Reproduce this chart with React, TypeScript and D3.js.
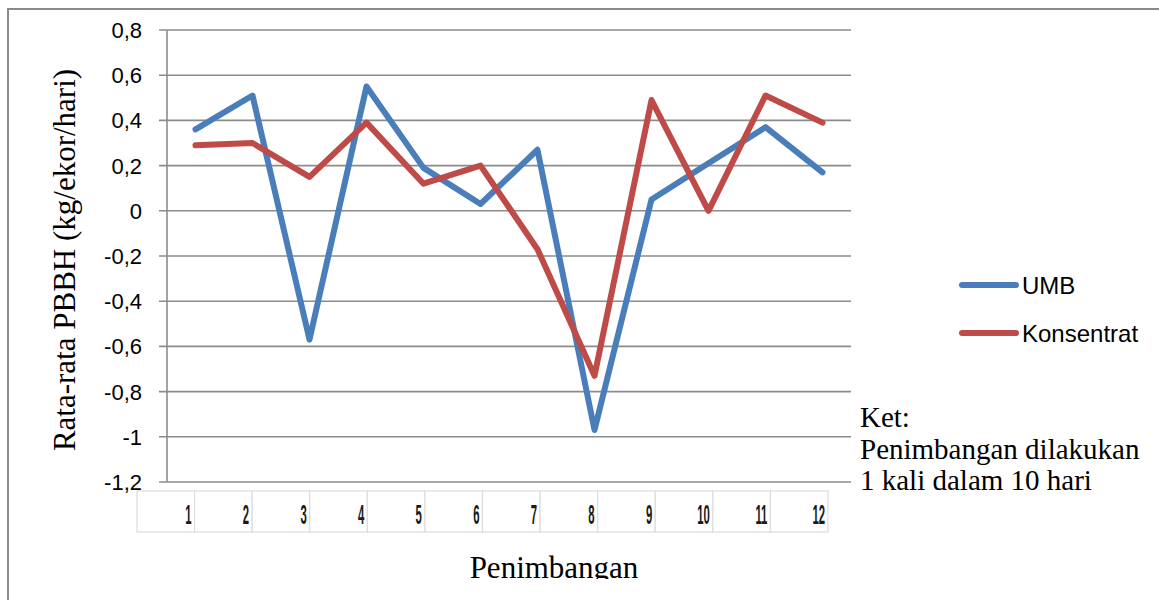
import React from 'react';
import * as d3 from 'd3';

const categories = ['1', '2', '3', '4', '5', '6', '7', '8', '9', '10', '11', '12'];
const umb = [0.36, 0.51, -0.57, 0.55, 0.19, 0.03, 0.27, -0.97, 0.05, 0.21, 0.37, 0.17];
const konsentrat = [0.29, 0.3, 0.15, 0.39, 0.12, 0.2, -0.17, -0.73, 0.49, 0.0, 0.51, 0.39];
const yTicks = [0.8, 0.6, 0.4, 0.2, 0, -0.2, -0.4, -0.6, -0.8, -1, -1.2];
const seriesNames = ['UMB', 'Konsentrat'];
const ketLines = ['Ket:', 'Penimbangan dilakukan', '1 kali dalam 10 hari'];

const W = 1159;
const H = 600;
const plot = { left: 167, right: 851, top: 30, bottom: 482 };
const colors = ['#4a7ebb', '#be4b48'];
const sans = "'Liberation Sans', Arial, sans-serif";
const serif = "'Liberation Serif', 'Times New Roman', serif";

const fmt = (v: number) => (v === 0 ? '0' : String(v).replace('.', ','));

const App = () => {
  const x = d3.scaleBand().domain(categories).range([plot.left, plot.right]);
  const y = d3.scaleLinear().domain([-1.2, 0.8]).range([plot.bottom, plot.top]);
  // kotak label sumbu x tergeser ke kiri seperti aslinya
  const cell = d3.scaleBand().domain(categories).range([137, 828]);

  const line = d3
    .line<number>()
    .x((_, i) => (x(categories[i]) as number) + x.bandwidth() / 2)
    .y((d) => y(d));

  return (
    <svg width={W} height={H} style={{ position: 'absolute', left: 0, top: 0, background: '#fff' }}>
      <defs>
        {/* gambar asli terpotong di bawah judul sumbu x */}
        <clipPath id="cut">
          <rect x={0} y={0} width={W} height={579} />
        </clipPath>
      </defs>

      {/* bingkai luar */}
      <path d={`M8,${H} L8,9 L${W},9`} fill="none" stroke="#8a8a8a" strokeWidth={2} />

      {/* grid & ticks */}
      {yTicks.map((t) => (
        <g key={t}>
          <line x1={159} x2={plot.right} y1={y(t)} y2={y(t)} stroke="#8c8c8c" strokeWidth={1.6} />
          <text x={142} y={y(t) + 8} textAnchor="end" fontSize={22} fontFamily={sans} fill="#000">
            {fmt(t)}
          </text>
        </g>
      ))}
      <line x1={plot.left} x2={plot.left} y1={plot.top} y2={plot.bottom} stroke="#8c8c8c" strokeWidth={1.6} />

      {/* label sumbu x dalam sel */}
      {categories.map((c) => (
        <g key={c}>
          <rect
            x={cell(c) as number}
            y={491}
            width={cell.bandwidth()}
            height={41}
            fill="#fff"
            stroke="#dcdcdc"
            strokeWidth={1.2}
          />
          <text
            transform={`translate(${(cell(c) as number) + cell.bandwidth() - 3},524) scale(0.42,1)`}
            textAnchor="end"
            fontSize={27}
            fontWeight={700}
            fontFamily={sans}
            fill="#1a1a1a"
          >
            {c}
          </text>
        </g>
      ))}

      {/* garis data */}
      {[umb, konsentrat].map((s, i) => (
        <path
          key={seriesNames[i]}
          d={line(s) as string}
          fill="none"
          stroke={colors[i]}
          strokeWidth={6}
          strokeLinejoin="round"
          strokeLinecap="round"
        />
      ))}

      {/* legenda */}
      {seriesNames.map((n, i) => (
        <g key={n} transform={`translate(0,${285 + i * 48})`}>
          <line x1={962} x2={1016} y1={0} y2={0} stroke={colors[i]} strokeWidth={6} strokeLinecap="round" />
          <text x={1022} y={8.5} fontSize={24} fontFamily={sans} fill="#000">
            {n}
          </text>
        </g>
      ))}

      {/* judul sumbu */}
      <text
        transform="translate(75,260) rotate(-90)"
        textAnchor="middle"
        fontSize={31}
        fontFamily={serif}
        fill="#000"
      >
        Rata-rata PBBH (kg/ekor/hari)
      </text>
      <text
        x={554}
        y={578}
        textAnchor="middle"
        fontSize={31}
        fontFamily={serif}
        fill="#000"
        clipPath="url(#cut)"
      >
        Penimbangan
      </text>

      {/* keterangan */}
      {ketLines.map((t, i) => (
        <text key={t} x={860} y={427 + i * 31.5} fontSize={29} fontFamily={serif} fill="#000">
          {t}
        </text>
      ))}
    </svg>
  );
};

export default App;
